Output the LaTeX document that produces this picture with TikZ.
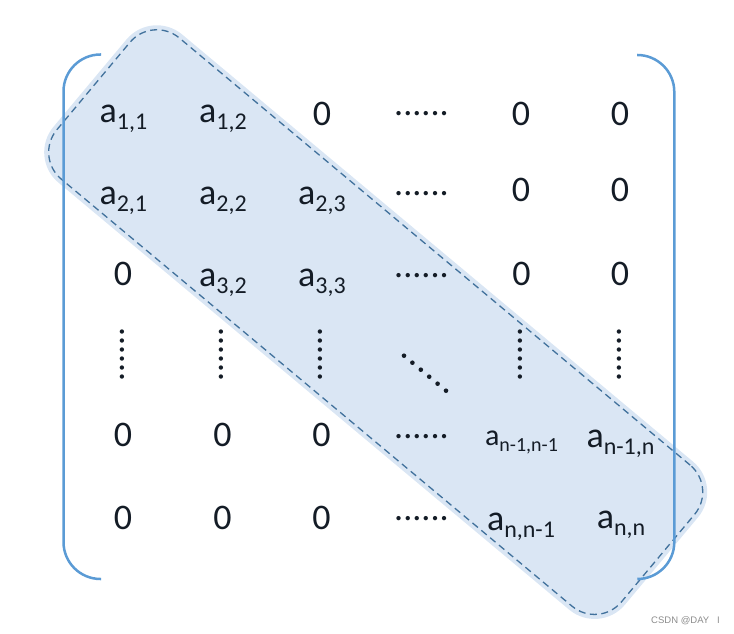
\documentclass[tikz,border=0pt]{standalone}
\usepackage{fontspec}
\setmainfont{Carlito}
\newfontfamily\wmfont{Liberation Sans}
\definecolor{bandfill}{HTML}{DAE6F4}
\definecolor{banddash}{HTML}{41719C}
\definecolor{brk}{HTML}{5B9BD5}
\definecolor{txt}{HTML}{141C26}
\newcommand{\ael}[1]{a\lower7pt\hbox{\fontsize{24}{24}\selectfont #1}}
\newcommand{\aels}[1]{\fontsize{30}{30}\selectfont a\lower6pt\hbox{\fontsize{20}{20}\selectfont #1}}
\newcommand{\dotrow}{\smash{......}}
\begin{document}
\begin{tikzpicture}[x=1pt,y=-1pt,
  cell/.style={anchor=base, inner sep=0pt, font=\fontsize{36}{36}\selectfont, text=txt},
  hdots/.style={cell},
  vdots/.style={cell, rotate=-90},
  dotmark/.style={circle, fill=txt, inner sep=0pt, minimum size=4.6pt},
  bracket/.style={draw=brk, line width=2.5pt, rounded corners=37pt}
]
\useasboundingbox (0,0) rectangle (734,634);
% band
\node[rotate=-39.9, minimum width=745pt, minimum height=193pt, rounded corners=39.5pt, fill=bandfill, inner sep=0pt] (bandbg) at (375.7,322.1) {};
\node[rotate=-39.9, minimum width=736pt, minimum height=184pt, rounded corners=35pt, draw=banddash, dash pattern=on 7pt off 4.5pt, line width=1.3pt, inner sep=0pt] (band) at (375.7,322.1) {};
% brackets
\draw[bracket] (101,54.5) -| (63.5,579) -- (101,579);
\draw[bracket] (637,55) -| (674.3,579) -- (638,579);
% row 1
\node[cell] (a11) at (123.5,122.5) {\ael{1,1}};
\node[cell] (a12) at (223,122.5) {\ael{1,2}};
\node[cell] (z13) at (322,125) {0};
\node[hdots] (h1) at (421.5,115) {\dotrow};
\node[cell] (z15) at (521,125) {0};
\node[cell] (z16) at (620,125) {0};
% row 2
\node[cell] (a21) at (123.3,204.5) {\ael{2,1}};
\node[cell] (a22) at (223,204.5) {\ael{2,2}};
\node[cell] (a23) at (322,204.5) {\ael{2,3}};
\node[hdots] (h2) at (421.5,195.5) {\dotrow};
\node[cell] (z25) at (521,201) {0};
\node[cell] (z26) at (620,201) {0};
% row 3
\node[cell] (z31) at (123,285.5) {0};
\node[cell] (a32) at (223,286.5) {\ael{3,2}};
\node[cell] (a33) at (322,286.5) {\ael{3,3}};
\node[hdots] (h3) at (421.5,277) {\dotrow};
\node[cell] (z35) at (521.5,285.5) {0};
\node[cell] (z36) at (620,285.5) {0};
% row 4
\node[vdots] (v1) at (120.3,354.7) {\dotrow};
\node[vdots] (v2) at (219.7,354.7) {\dotrow};
\node[vdots] (v3) at (318.7,354.7) {\dotrow};
\foreach \i in {0,...,5}{
  \node[dotmark] (d\i) at ({404+\i*8.4},{355.7+\i*7}) {};
}
\node[vdots] (v5) at (518,354.7) {\dotrow};
\node[vdots] (v6) at (617.3,354.7) {\dotrow};
% row 5
\node[cell] (z51) at (123,446) {0};
\node[cell] (z52) at (222.5,446) {0};
\node[cell] (z53) at (321.5,446) {0};
\node[hdots] (h5) at (421.5,438) {\dotrow};
\node[cell] (a55) at (521.5,445) {\aels{n-1,n-1}};
\node[cell] (a56) at (620.5,447) {\ael{n-1,n}};
% row 6
\node[cell] (z61) at (123,529) {0};
\node[cell] (z62) at (222.5,529) {0};
\node[cell] (z63) at (321.5,529) {0};
\node[hdots] (h6) at (421.5,520.5) {\dotrow};
\node[cell] (a65) at (521,530) {\ael{n,n-1}};
\node[cell] (a66) at (621,528) {\ael{n,n}};
% watermark
\node[anchor=base west, inner sep=0pt, font=\wmfont\fontsize{9.5}{9.5}\selectfont, text=black!45] (wm) at (651,623) {CSDN @DAY\hspace{8pt}I};
\end{tikzpicture}
\end{document}
